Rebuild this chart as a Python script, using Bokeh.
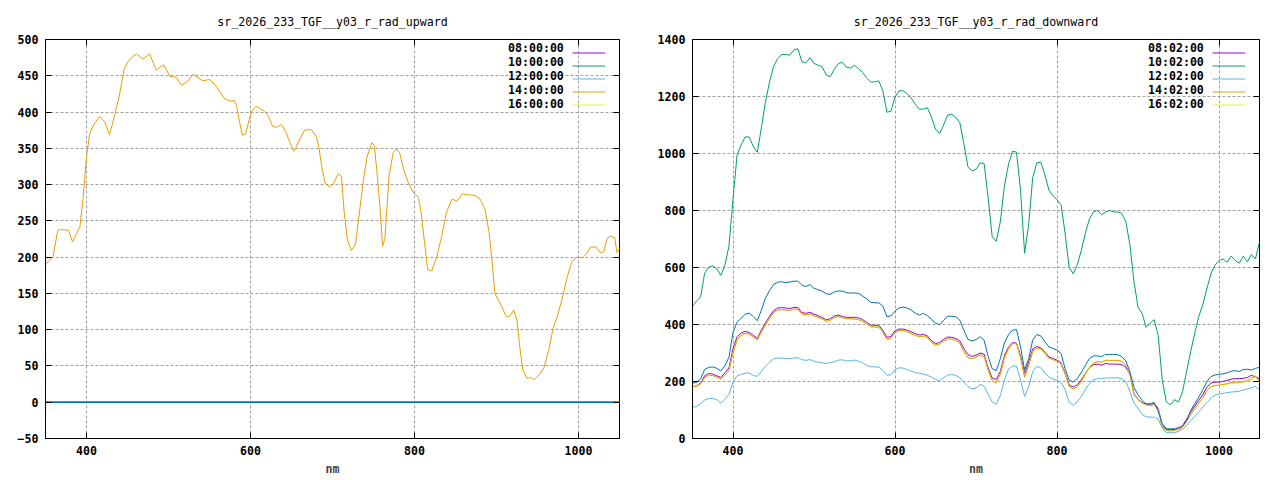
from bokeh.plotting import figure
from bokeh.models import Range1d, FixedTicker, LinearAxis, Legend, LegendItem, CustomJSTickFormatter
from bokeh.core.properties import value
from bokeh.layouts import row
from bokeh.embed import file_html
from bokeh.resources import INLINE

# ---------------- data ----------------
x_ticks = [400, 600, 800, 1000]
up_y_ticks = [-50, 0, 50, 100, 150, 200, 250, 300, 350, 400, 450, 500]
down_y_ticks = [0, 200, 400, 600, 800, 1000, 1200, 1400]

up_labels = ["08:00:00", "10:00:00", "12:00:00", "14:00:00", "16:00:00"]
down_labels = ["08:02:00", "10:02:00", "12:02:00", "14:02:00", "16:02:00"]

colors = ["#9400d3", "#009e73", "#56b4e9", "#e69f00", "#f0e442", "#0072b2"]

# upward radiance (only 14:00:00 carries signal, the other series are zero)
up_wl = [350, 355, 359, 365, 368, 378, 383, 392, 396, 400,
         404, 410, 416, 422, 428, 432, 440, 446, 451, 456,
         461, 469, 477, 485, 494, 502, 509, 516, 523, 530,
         542, 550, 558, 568, 575, 580, 583, 586, 590, 594,
         601, 607, 617, 622, 627, 632, 638, 643, 648, 653,
         660, 666, 674, 680, 683, 687, 691, 696, 701, 707,
         711, 714, 718, 723, 728, 732, 737, 742, 748, 751,
         754, 758, 761, 764, 766, 769, 774, 778, 782, 787,
         793, 798, 805, 808, 811, 816, 821, 827, 833, 839,
         846, 852, 858, 866, 874, 880, 886, 891, 895, 898,
         905, 912, 916, 921, 925, 928, 932, 937, 942, 946,
         953, 958, 964, 969, 974, 980, 986, 992, 998, 1005,
         1010, 1015, 1021, 1027, 1031, 1035, 1039, 1044, 1047, 1050]
up_1400 = [190, 196, 200, 237, 238, 237, 221, 242, 283, 339,
           371, 385, 394, 387, 369, 385, 422, 460, 470, 476,
           480, 473, 480, 458, 465, 449, 448, 437, 442, 452,
           443, 445, 436, 419, 415, 416, 409, 390, 368, 370,
           400, 408, 401, 394, 380, 379, 383, 373, 358, 346,
           362, 375, 376, 367, 354, 324, 302, 297, 301, 315,
           311, 265, 225, 209, 218, 254, 300, 338, 358, 354,
           320, 268, 215, 226, 262, 312, 344, 349, 343, 320,
           301, 290, 282, 262, 232, 183, 181, 200, 228, 262,
           280, 277, 287, 286, 285, 280, 266, 234, 189, 150,
           135, 118, 118, 127, 113, 80, 45, 33, 34, 31,
           39, 48, 73, 102, 118, 142, 172, 194, 200, 199,
           205, 214, 214, 206, 208, 226, 229, 227, 206, 212]
up_zero_wl = [350, 1050]
up_0800 = [0, 0]
up_1000 = [0, 0]
up_1200 = [0, 0]
up_1600 = [0, 0]
up_extra = [0, 0]

# downward radiance, 5 nm grid
down_wl = list(range(350, 1051, 5))
down_0802 = [182, 184, 195, 220, 228, 226, 220, 214, 230, 248,
             315, 357, 370, 376, 372, 362, 351, 380, 405, 428,
             448, 458, 459, 458, 456, 460, 460, 442, 439, 443,
             436, 431, 425, 416, 420, 430, 433, 428, 425, 425,
             425, 423, 417, 408, 398, 397, 397, 380, 355, 358,
             378, 384, 384, 380, 374, 368, 363, 365, 360, 343,
             333, 337, 348, 356, 355, 351, 342, 316, 295, 288,
             292, 300, 296, 248, 212, 207, 235, 290, 320, 336,
             335, 290, 228, 268, 314, 323, 318, 303, 286, 281,
             275, 265, 230, 188, 181, 188, 206, 228, 248, 259,
             261, 257, 263, 261, 261, 261, 259, 250, 226, 157,
             138, 126, 121, 120, 123, 105, 45, 33, 31, 32,
             35, 45, 68, 92, 114, 134, 153, 180, 194, 198,
             198, 200, 204, 208, 210, 210, 211, 214, 222, 216, 210]
down_1002 = [465, 482, 497, 580, 601, 606, 595, 572, 608, 675,
             840, 995, 1030, 1058, 1058, 1025, 1004, 1090, 1180, 1250,
             1305, 1332, 1347, 1348, 1345, 1363, 1368, 1322, 1318, 1336,
             1316, 1310, 1305, 1275, 1270, 1295, 1315, 1320, 1303, 1300,
             1309, 1298, 1284, 1265, 1251, 1251, 1255, 1220, 1145, 1148,
             1198, 1220, 1220, 1210, 1195, 1173, 1155, 1156, 1160, 1128,
             1085, 1070, 1100, 1135, 1138, 1127, 1108, 1035, 954, 939,
             944, 967, 965, 845, 708, 692, 760, 884, 960, 1008,
             1005, 870, 650, 750, 915, 967, 970, 925, 872, 852,
             837, 820, 720, 600, 578, 609, 660, 720, 770, 795,
             800, 785, 795, 800, 795, 795, 790, 760, 680, 552,
             460, 440, 390, 405, 417, 360, 204, 128, 118, 136,
             128, 165, 235, 305, 368, 428, 470, 525, 578, 608,
             625, 630, 618, 640, 625, 615, 640, 620, 645, 630, 690]
down_1202 = [110, 112, 122, 135, 140, 140, 136, 124, 137, 155,
             197, 219, 225, 229, 230, 221, 218, 235, 253, 268,
             279, 282, 282, 281, 280, 282, 284, 277, 274, 277,
             271, 268, 265, 263, 266, 269, 275, 276, 272, 273,
             275, 271, 266, 256, 252, 251, 251, 240, 222, 224,
             241, 248, 247, 242, 236, 232, 229, 226, 222, 215,
             207, 203, 213, 223, 224, 222, 213, 197, 182, 175,
             176, 190, 183, 155, 128, 120, 150, 205, 243, 254,
             254, 205, 148, 180, 235, 253, 248, 230, 216, 209,
             204, 197, 172, 127, 117, 128, 148, 172, 193, 206,
             210, 210, 212, 213, 213, 213, 209, 200, 165, 125,
             106, 85, 76, 75, 75, 68, 36, 21, 20, 20,
             25, 33, 45, 63, 78, 93, 110, 126, 142, 152,
             156, 158, 161, 163, 164, 166, 170, 174, 178, 183, 170]
down_1402 = [182, 183, 192, 214, 222, 221, 215, 208, 222, 238,
             300, 345, 362, 369, 366, 356, 346, 373, 398, 421,
             442, 451, 452, 451, 449, 454, 454, 437, 433, 437,
             430, 425, 420, 411, 414, 424, 428, 423, 420, 420,
             419, 417, 411, 402, 392, 391, 391, 373, 348, 352,
             372, 379, 379, 375, 368, 362, 357, 359, 354, 337,
             327, 331, 342, 350, 349, 345, 335, 305, 284, 280,
             285, 294, 288, 240, 203, 196, 225, 282, 314, 333,
             333, 283, 215, 255, 305, 318, 314, 299, 282, 277,
             271, 262, 226, 182, 174, 181, 200, 226, 250, 264,
             270, 268, 274, 274, 274, 274, 271, 258, 228, 155,
             136, 124, 118, 116, 119, 100, 40, 28, 27, 28,
             31, 40, 60, 84, 104, 124, 143, 168, 182, 186,
             187, 190, 193, 196, 198, 198, 200, 203, 212, 220, 200]
down_1602 = [182, 183, 192, 214, 222, 221, 215, 208, 222, 238,
             300, 345, 362, 369, 366, 356, 346, 373, 398, 421,
             442, 451, 452, 451, 449, 454, 454, 437, 433, 437,
             430, 425, 420, 411, 414, 424, 428, 423, 420, 420,
             419, 417, 411, 402, 392, 391, 391, 373, 348, 352,
             372, 379, 379, 375, 368, 362, 357, 359, 354, 337,
             327, 331, 342, 350, 349, 345, 335, 305, 284, 280,
             285, 294, 288, 240, 203, 196, 225, 282, 314, 333,
             333, 283, 215, 255, 305, 318, 314, 299, 282, 277,
             271, 262, 226, 182, 174, 181, 200, 226, 250, 264,
             270, 268, 274, 274, 274, 274, 271, 258, 228, 155,
             136, 124, 118, 116, 119, 100, 40, 28, 27, 28,
             31, 40, 60, 84, 104, 124, 143, 168, 182, 186,
             187, 189, 190, 193, 195, 196, 197, 200, 208, 216, 198]
down_extra = [195, 196, 210, 242, 250, 251, 246, 237, 255, 285,
              372, 408, 422, 436, 440, 428, 413, 450, 492, 518,
              540, 548, 550, 547, 549, 552, 552, 538, 533, 540,
              527, 522, 517, 508, 506, 514, 518, 517, 512, 510,
              511, 509, 500, 490, 478, 476, 476, 465, 428, 430,
              447, 458, 461, 458, 451, 440, 433, 439, 431, 418,
              405, 399, 415, 429, 429, 427, 415, 380, 348, 342,
              347, 357, 345, 288, 245, 238, 280, 335, 364, 380,
              382, 321, 240, 280, 345, 365, 360, 340, 321, 316,
              310, 298, 245, 205, 198, 210, 232, 257, 280, 290,
              290, 287, 295, 295, 295, 294, 287, 272, 235, 180,
              153, 134, 121, 122, 126, 95, 52, 34, 34, 34,
              38, 44, 62, 98, 122, 145, 170, 200, 217, 223,
              225, 227, 230, 236, 238, 235, 242, 243, 240, 246, 250]

# ---------------- styling ----------------
FONT = "DejaVu Sans Mono"
FS = "11.6px"
W, H = 640, 480


def make_fig(title, y_lo, y_hi, y_ticks, left, right):
    p = figure(width=W, height=H, x_range=Range1d(350, 1050), y_range=Range1d(y_lo, y_hi),
               output_backend="svg", toolbar_location=None,
               min_border_left=left, min_border_right=right,
               min_border_top=39, min_border_bottom=42)
    p.title.text = title
    p.title.align = "center"
    p.title.text_font = FONT
    p.title.text_font_size = FS
    p.title.text_font_style = "normal"
    p.title.text_color = "black"
    p.title.standoff = 22
    p.background_fill_color = "white"
    p.border_fill_color = "white"
    p.outline_line_color = "black"
    p.outline_line_width = 1
    p.outline_line_alpha = 1

    p.xaxis.ticker = FixedTicker(ticks=x_ticks)
    p.yaxis.ticker = FixedTicker(ticks=y_ticks)
    for ax in (p.xaxis, p.yaxis):
        ax.major_tick_in = 6
        ax.major_tick_out = 0
        ax.minor_tick_line_color = None
        ax.axis_line_color = "black"
        ax.major_tick_line_color = "black"
        ax.major_label_text_font = FONT
        ax.major_label_text_font_size = FS
        ax.major_label_text_font_style = "bold"
        ax.major_label_text_color = "black"
    p.xaxis.major_label_standoff = 7
    p.yaxis.major_label_standoff = 7
    p.xaxis.axis_label = "nm"
    p.xaxis.axis_label_text_font = FONT
    p.xaxis.axis_label_text_font_size = FS
    p.xaxis.axis_label_text_font_style = "bold"
    p.xaxis.axis_label_standoff = 4

    blank = CustomJSTickFormatter(code="return ''")
    top = LinearAxis(ticker=FixedTicker(ticks=x_ticks), formatter=blank,
                     major_tick_in=6, major_tick_out=0, minor_tick_line_color=None,
                     axis_line_color=None, major_label_standoff=0)
    rgt = LinearAxis(ticker=FixedTicker(ticks=y_ticks), formatter=blank,
                     major_tick_in=6, major_tick_out=0, minor_tick_line_color=None,
                     axis_line_color=None, major_label_standoff=0)
    p.add_layout(top, "above")
    p.add_layout(rgt, "right")

    for g in (p.xgrid, p.ygrid):
        g.grid_line_color = "#a0a0a0"
        g.grid_line_dash = "3 2"
        g.grid_line_width = 1
    return p


def add_legend(p, labels, rends, text_x, line_x, bottom_y):
    # gnuplot style key: label text on the left, line sample on the right
    common = dict(padding=0, margin=0, spacing=0, label_height=13, glyph_height=13,
                  border_line_alpha=0, background_fill_alpha=0,
                  label_text_font=FONT, label_text_font_size=FS,
                  label_text_line_height=1.1,
                  label_text_font_style="bold", label_text_color="black")
    dummies = [p.line(x=[], y=[], line_alpha=0) for _ in labels]
    leg_t = Legend(items=[LegendItem(label=l, renderers=[d]) for l, d in zip(labels, dummies)],
                   location=(text_x, bottom_y), glyph_width=0, label_standoff=0, **common)
    leg_l = Legend(items=[LegendItem(label=value(""), renderers=[r]) for r in rends],
                   location=(line_x, bottom_y), glyph_width=33, label_standoff=0,
                   label_width=0, **common)
    p.add_layout(leg_t)
    p.add_layout(leg_l)


# ---------------- left: upward ----------------
p1 = make_fig("sr_2026_233_TGF__y03_r_rad_upward", -50, 500, up_y_ticks, 45, 21)
r08 = p1.line(up_zero_wl, up_0800, line_color=colors[0], line_width=1)
r10 = p1.line(up_zero_wl, up_1000, line_color=colors[1], line_width=1)
r12 = p1.line(up_zero_wl, up_1200, line_color=colors[2], line_width=1)
r14 = p1.line(up_wl, up_1400, line_color=colors[3], line_width=1)
r16 = p1.line(up_zero_wl, up_1600, line_color=colors[4], line_width=1)
p1.line(up_zero_wl, up_extra, line_color=colors[5], line_width=1.3)
add_legend(p1, up_labels, [r08, r10, r12, r14, r16], 463, 527, 327)

# ---------------- right: downward ----------------
p2 = make_fig("sr_2026_233_TGF__y03_r_rad_downward", 0, 1400, down_y_ticks, 52, 21)
d08 = p2.line(down_wl, down_0802, line_color=colors[0], line_width=1)
d10 = p2.line(down_wl, down_1002, line_color=colors[1], line_width=1)
d12 = p2.line(down_wl, down_1202, line_color=colors[2], line_width=1)
d16 = p2.line(down_wl, down_1602, line_color=colors[4], line_width=1)
d14 = p2.line(down_wl, down_1402, line_color=colors[3], line_width=1)
p2.line(down_wl, down_extra, line_color=colors[5], line_width=1)
add_legend(p2, down_labels, [d08, d10, d12, d14, d16], 456, 520, 327)

layout = row(p1, p2)
open("out.html", "w").write(file_html(layout, INLINE))
